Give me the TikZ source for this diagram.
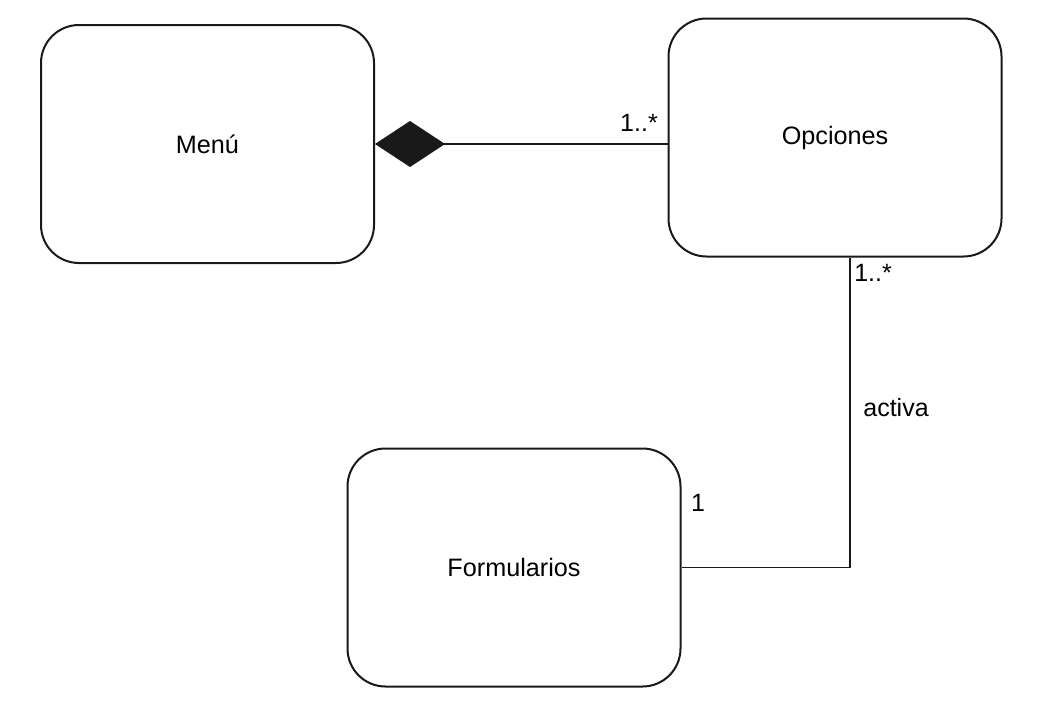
\documentclass[tikz,border=0pt]{standalone}
\usepackage{fontspec}
\setmainfont{Liberation Sans}
\usetikzlibrary{arrows.meta}
\begin{document}
\begin{tikzpicture}[x=1pt,y=-1pt,
  classbox/.style={draw=black!90, line width=2pt, rounded corners=38pt, minimum width=333pt, minimum height=238pt, inner sep=0pt, font=\fontsize{25.2}{30}\selectfont},
  conn/.style={draw=black!90, line width=1.6pt},
  lbl/.style={inner sep=0pt, font=\fontsize{25}{30}\selectfont}]
\useasboundingbox (0,0) rectangle (1056,712);
\node[classbox] (menu) at (207.5,144) {Menú};
\node[classbox] (opc) at (835,137.5) {Opciones};
\node[classbox] (form) at (514,567.5) {Formularios};
\draw[conn, {Diamond[length=70pt,width=46pt,fill=black!90]}-] (menu.east) -- (menu.east -| opc.west);
\draw[conn] ([xshift=15pt]opc.south) |- (form.east);
\node[lbl] (m1) at (639,123) {1..*};
\node[lbl] (m2) at (873,273) {1..*};
\node[lbl] (act) at (896,408) {activa};
\node[lbl] (m3) at (698,503) {1};
\end{tikzpicture}
\end{document}
